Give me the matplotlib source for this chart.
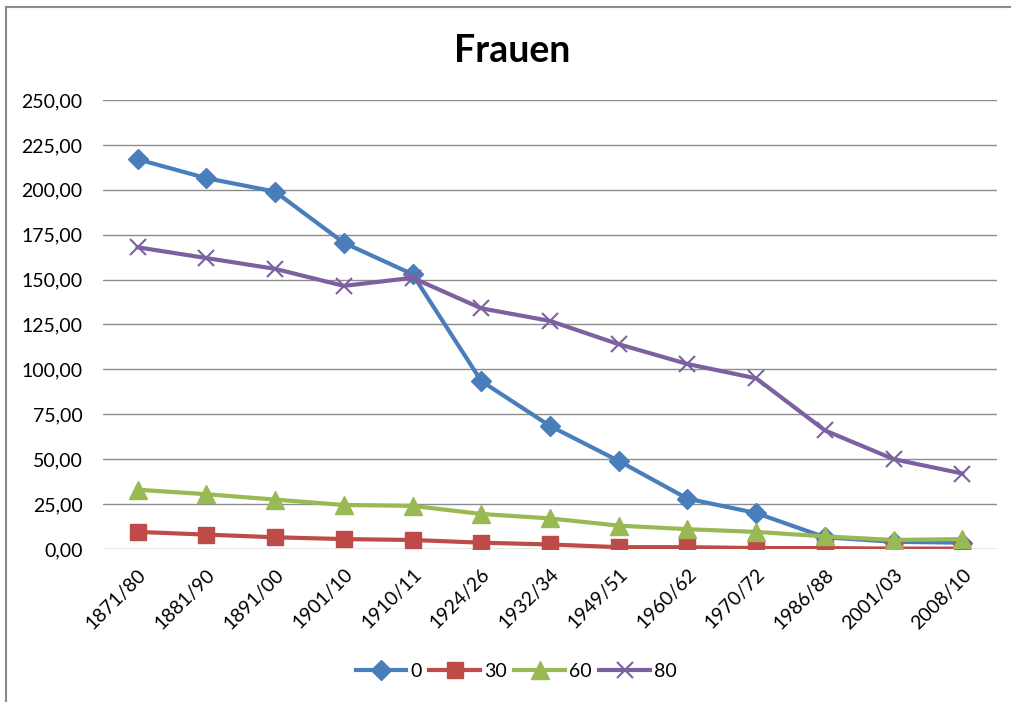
import matplotlib
matplotlib.use("Agg")
import matplotlib.pyplot as plt
from matplotlib.lines import Line2D

periods = ["1871/80", "1881/90", "1891/00", "1901/10", "1910/11", "1924/26", "1932/34",
           "1949/51", "1960/62", "1970/72", "1986/88", "2001/03", "2008/10"]
age0 = [217, 206.5, 199, 170.5, 153, 93.5, 68.5, 49, 28, 20, 6.5, 4, 3.5]
age30 = [9.5, 8, 6.5, 5.5, 5, 3.5, 2.5, 1, 1, 0.5, 0.5, 0.2, 0.2]
age60 = [33, 30.5, 27.5, 24.5, 24, 19.5, 17, 13, 11, 9.5, 7, 5, 5.5]
age80 = [168, 162, 156, 146.5, 151, 134, 127, 114, 103, 95, 66, 50, 42]
series_names = ["0", "30", "60", "80"]

plt.rcParams['font.family'] = ['Lato', 'DejaVu Sans']

fig = plt.figure(figsize=(10.12, 7.02), dpi=100)
ax = fig.add_axes([0.102, 0.218, 0.883, 0.6395])

x = list(range(len(periods)))
styles = [
    (age0, '#4A7EBB', 'D', 10),
    (age30, '#BE4B48', 's', 11.5),
    (age60, '#98B954', '^', 13),
    (age80, '#7D60A0', 'x', 12),
]
handles = []
for (vals, col, mk, ms), name in zip(styles, series_names):
    mew = 1.5 if mk == 'x' else 1
    ax.plot(x, vals, color=col, lw=3, marker=mk, markersize=ms,
            markeredgewidth=mew, markeredgecolor=col, zorder=3)
    handles.append(Line2D([], [], color=col, lw=3, marker=mk, markersize=ms,
                          markeredgewidth=mew, markeredgecolor=col))

ax.set_xlim(-0.5, len(periods) - 0.5)
ax.set_ylim(0, 250)
ax.set_yticks(range(0, 251, 25))
ax.set_yticklabels([f"{v},00" for v in range(0, 251, 25)], fontsize=14)
ax.set_xticks(x)
ax.set_xticklabels(periods, rotation=45, ha='right', rotation_mode='anchor', fontsize=14)
ax.tick_params(axis='y', length=0, pad=15)
ax.tick_params(axis='x', length=0, pad=12)
ax.grid(axis='y', color='#8c8c8c', lw=1)
ax.set_axisbelow(True)
for s in ax.spines.values():
    s.set_visible(False)

fig.text(0.506, 0.928, "Frauen", ha='center', va='center', fontsize=27, fontweight='bold')

fig.legend(handles, series_names, loc='center', bbox_to_anchor=(0.51, 0.044), ncol=4,
           frameon=False, fontsize=14, handlelength=2.6, columnspacing=0.4, handletextpad=0.2)

# chart border (left and top visible)
fig.add_artist(Line2D([0.006, 0.006], [0, 0.99], color='#8a8a8a', lw=1.5, transform=fig.transFigure))
fig.add_artist(Line2D([0.006, 1.0], [0.99, 0.99], color='#8a8a8a', lw=1.5, transform=fig.transFigure))

fig.savefig("out.png", dpi=100)
